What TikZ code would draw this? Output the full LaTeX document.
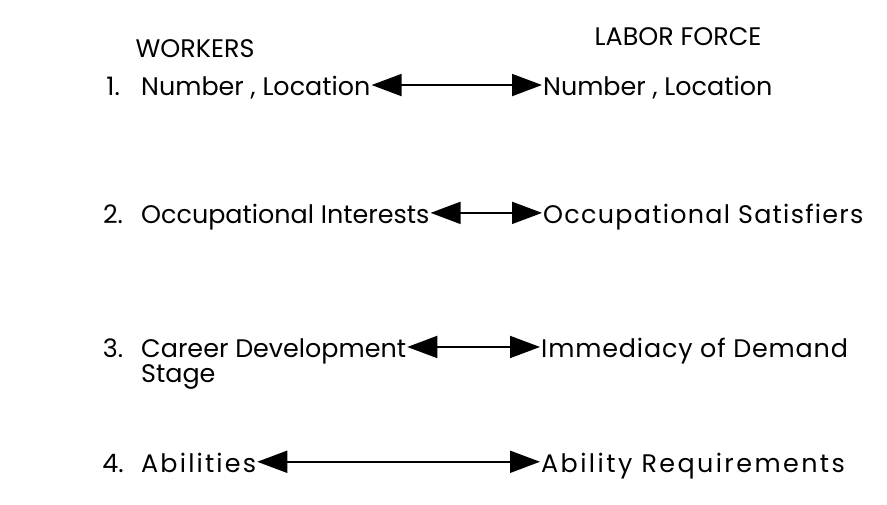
\documentclass[tikz,border=0pt]{standalone}
\usepackage{fontspec}
\setmainfont{Poppins}
\usetikzlibrary{arrows.meta,positioning}
\tikzset{
  item/.style={inner sep=1pt,text height=22bp,text depth=1bp,font=\fontsize{25.5}{30}\selectfont},
  pair/.style={{Triangle[length=30bp,width=22bp]}-{Triangle[length=30bp,width=22bp]},line width=1.8bp}
}
% wider letter spacing for some of the entries
\newcommand{\spaced}[2]{{\addfontfeature{LetterSpace=#1}#2}}
\begin{document}
\begin{tikzpicture}
\useasboundingbox (0,0) rectangle (31.29,17.81);

% column heads
\node[item](hw)at(6.88,16.16){WORKERS};
\node[item](hl)at(23.92,16.58){LABOR FORCE};

% numbers
\node[item](n1)at(3.99,14.81){1.};
\node[item](n2)at(3.99,10.30){2.};
\node[item](n3)at(3.99,5.57){3.};
\node[item](n4)at(3.99,1.52){4.};

% workers side
\node[item,anchor=west](l1)at(4.94,14.81){Number , Location};
\node[item,anchor=west](l2)at(4.94,10.30){Occupational Interests};
\node[item,anchor=west](l3)at(4.94,5.57){Career Development};
\node[item,anchor=west](l3s)at(4.94,4.69){Stage};
\node[item,anchor=west](l4)at(4.94,1.52){\spaced{8.5}{Abilities}};

% labor force side
\node[item,anchor=west](r1)at(19.12,14.81){Number , Location};
\node[item,anchor=west](r2)at(19.12,10.30){\spaced{5}{Occupational Satisfiers}};
\node[item,anchor=west](r3)at(19.05,5.57){\spaced{3.3}{Immediacy of Demand}};
\node[item,anchor=west](r4)at(19.05,1.52){\spaced{9.5}{Ability Requirements}};

\draw[pair](l1.east)--(r1.west);
\draw[pair](l2.east)--(r2.west);
\draw[pair](l3.east)--(r3.west);
\draw[pair](l4.east)--(r4.west);

\end{tikzpicture}
\end{document}
